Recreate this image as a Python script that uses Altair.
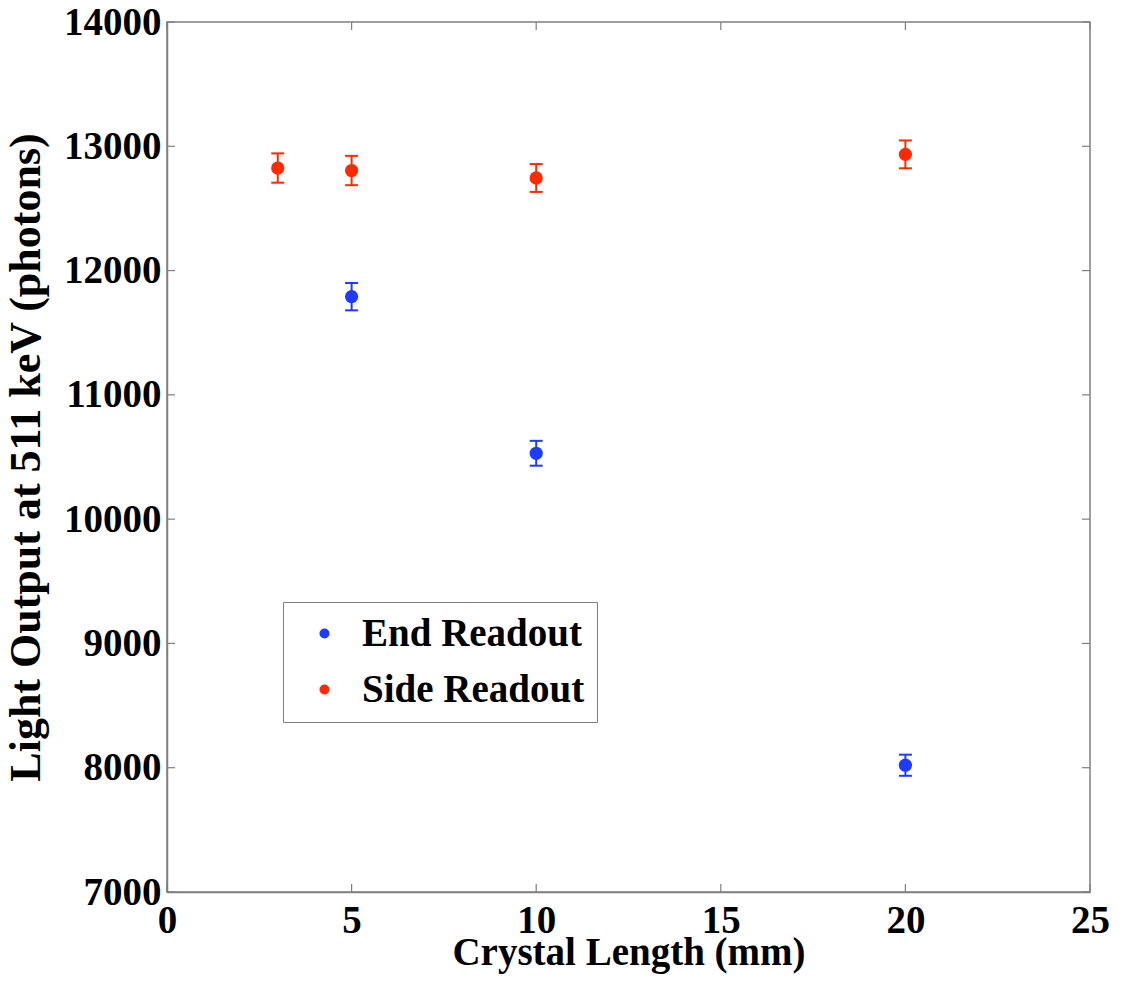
import altair as alt
import pandas as pd

# Data
end_x = [5, 10, 20]
end_y = [11790, 10530, 8020]
end_err = [110, 100, 85]

side_x = [3, 5, 10, 20]
side_y = [12825, 12805, 12745, 12935]
side_err = [118, 118, 112, 112]

x_ticks = [0, 5, 10, 15, 20, 25]
y_ticks = [7000, 8000, 9000, 10000, 11000, 12000, 13000, 14000]

series_names = ["End Readout", "Side Readout"]
series_colors = ["#1f3bff", "#ff2a00"]

rows = []
for x, y, e in zip(end_x, end_y, end_err):
    rows.append({"x": x, "y": y, "lo": y - e, "hi": y + e, "series": "End Readout"})
for x, y, e in zip(side_x, side_y, side_err):
    rows.append({"x": x, "y": y, "lo": y - e, "hi": y + e, "series": "Side Readout"})
df = pd.DataFrame(rows)

W, H = 923, 870
FONT = "Liberation Serif"
GRAY = "#7f7f7f"

xscale = alt.Scale(domain=[0, 25], nice=False, zero=False)
yscale = alt.Scale(domain=[7000, 14000], nice=False, zero=False)

legend = alt.Legend(
    title=None,
    orient="none",
    legendX=116,
    legendY=580,
    strokeColor=GRAY,
    fillColor="white",
    padding=12,
    rowPadding=16,
    symbolOffset=10,
    labelOffset=18,
    symbolType="circle",
    symbolSize=100,
    symbolStrokeWidth=0,
    labelFont=FONT,
    labelFontSize=39,
    labelFontWeight="bold",
    labelColor="black",
    labelLimit=500,
)


def color_enc():
    return alt.Color(
        "series:N",
        scale=alt.Scale(domain=series_names, range=series_colors),
        legend=legend,
    )


base = alt.Chart(df)

points = base.mark_circle(size=175, opacity=1).encode(
    x=alt.X(
        "x:Q",
        scale=xscale,
        axis=alt.Axis(
            values=x_ticks,
            format="d",
            title="Crystal Length (mm)",
            ticks=False,
            grid=False,
            labelFlush=False,
            labelPadding=9,
            titleY=72,
            titleBaseline="alphabetic",
            titleFontSize=39,
        ),
    ),
    y=alt.Y(
        "y:Q",
        scale=yscale,
        axis=alt.Axis(
            values=y_ticks,
            format="d",
            title="Light Output at 511 keV (photons)",
            ticks=False,
            grid=False,
            labelFlush=False,
            labelPadding=6,
            titleAngle=270,
            titleX=-128,
            titleY=H / 2,
            titleAlign="center",
            titleBaseline="alphabetic",
            titleFontSize=44,
        ),
    ),
    color=color_enc(),
)

bars = base.mark_rule(strokeWidth=2, opacity=1).encode(
    x=alt.X("x:Q", scale=xscale),
    y=alt.Y("lo:Q", scale=yscale),
    y2="hi:Q",
    color=color_enc(),
)
caps_lo = base.mark_tick(thickness=2, size=13, orient="horizontal", opacity=1).encode(
    x=alt.X("x:Q", scale=xscale),
    y=alt.Y("lo:Q", scale=yscale),
    color=color_enc(),
)
caps_hi = base.mark_tick(thickness=2, size=13, orient="horizontal", opacity=1).encode(
    x=alt.X("x:Q", scale=xscale),
    y=alt.Y("hi:Q", scale=yscale),
    color=color_enc(),
)

xt = alt.Chart(pd.DataFrame({"x": x_ticks}))
yt = alt.Chart(pd.DataFrame({"y": y_ticks}))
tick_len = 8
tb = xt.mark_rule(color=GRAY, strokeWidth=1.2).encode(
    x=alt.X("x:Q", scale=xscale), y=alt.value(H), y2=alt.value(H - tick_len))
tt = xt.mark_rule(color=GRAY, strokeWidth=1.2).encode(
    x=alt.X("x:Q", scale=xscale), y=alt.value(0), y2=alt.value(tick_len))
tl = yt.mark_rule(color=GRAY, strokeWidth=1.2).encode(
    y=alt.Y("y:Q", scale=yscale), x=alt.value(0), x2=alt.value(tick_len))
tr = yt.mark_rule(color=GRAY, strokeWidth=1.2).encode(
    y=alt.Y("y:Q", scale=yscale), x=alt.value(W), x2=alt.value(W - tick_len))

chart = (
    alt.layer(tb, tt, tl, tr, bars, caps_lo, caps_hi, points)
    .properties(
        width=W,
        height=H,
        autosize="none",
        padding={"left": 159, "top": 14, "right": 20, "bottom": 85},
        background="white",
    )
    .configure_view(stroke=GRAY, strokeWidth=1.5)
    .configure_axis(
        domainColor=GRAY,
        domainWidth=1.5,
        labelFont=FONT,
        labelFontSize=39,
        labelFontWeight="bold",
        labelColor="black",
        titleFont=FONT,
        titleFontSize=39,
        titleFontWeight="bold",
        titleColor="black",
    )
)

chart.save("out.html", embed_options={"renderer": "svg", "actions": False})
